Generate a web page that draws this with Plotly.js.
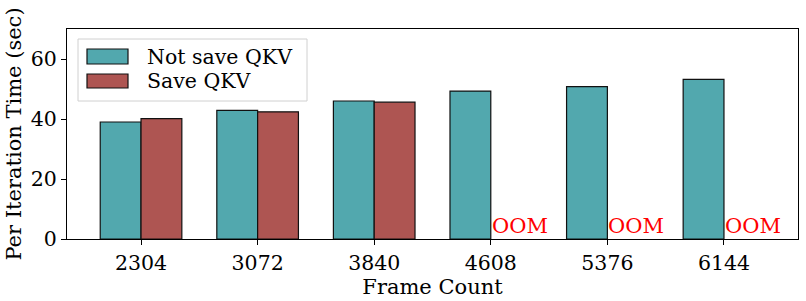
<!DOCTYPE html>
<html><head><meta charset="utf-8">
<script src="https://cdn.plot.ly/plotly-3.0.1.min.js"></script>
<style>html,body{margin:0;padding:0;background:#fff}#chart{width:806px;height:301px}</style>
</head><body><div id="chart"></div>
<script>
const categories = ["2304", "3072", "3840", "4608", "5376", "6144"];
const notSaveQKV = [39.0, 42.9, 46.0, 49.3, 50.8, 53.2];
const saveQKV = [40.1, 42.4, 45.6, null, null, null];
const seriesNames = ["Not save QKV", "Save QKV"];
const oomLabel = "OOM";
const yTicks = [0, 20, 40, 60];

const teal = "rgb(82,168,174)";
const red = "rgb(174,85,82)";
const font = {family: "DejaVu Serif", size: 20.5, color: "#000"};
const titleFont = {family: "DejaVu Serif", size: 21, color: "#000"};
const idx = categories.map((_, i) => i);
const W = 0.35;

const traces = [
  {type: "bar", x: idx.map(i => i - W/2), y: notSaveQKV, width: W, name: seriesNames[0],
   marker: {color: teal, line: {color: "#111", width: 1.2}}, showlegend: false},
  {type: "bar", x: idx.map(i => i + W/2), y: saveQKV, width: W, name: seriesNames[1],
   marker: {color: red, line: {color: "#111", width: 1.2}}, showlegend: false}
];

const annotations = [];
saveQKV.forEach((v, i) => {
  if (v === null) annotations.push({x: i, y: 0, xref: "x", yref: "y", text: oomLabel,
    showarrow: false, xanchor: "left", yanchor: "bottom", xshift: -1, yshift: -1,
    font: {family: "DejaVu Serif", size: 21, color: "#ff0000"}});
});
// legend
const px = v => (v - 67) / 731, py = v => (239 - v) / 210;
const shapes = [
  {type: "path", xref: "paper", yref: "paper",
   path: (() => { const x0=px(78),x1=px(307),y0=py(101),y1=py(39); return `M${x0},${y0} L${x1},${y0} L${x1},${y1} L${x0},${y1} Z`; })(),
   line: {color: "#d0d0d0", width: 1}, fillcolor: "rgba(255,255,255,0.8)"},
  {type: "rect", xref: "paper", yref: "paper", x0: px(87), x1: px(128), y0: py(64), y1: py(49),
   fillcolor: teal, line: {color: "#111", width: 1.2}},
  {type: "rect", xref: "paper", yref: "paper", x0: px(87), x1: px(128), y0: py(88), y1: py(74),
   fillcolor: red, line: {color: "#111", width: 1.2}}
];
annotations.push({xref: "paper", yref: "paper", x: px(145), y: py(57), text: seriesNames[0], showarrow: false,
  xanchor: "left", yanchor: "middle", font: font});
annotations.push({xref: "paper", yref: "paper", x: px(145), y: py(81), text: seriesNames[1], showarrow: false,
  xanchor: "left", yanchor: "middle", font: font});

const layout = {
  width: 806, height: 301,
  margin: {l: 67, r: 8, t: 29, b: 62},
  paper_bgcolor: "#fff", plot_bgcolor: "#fff",
  font: font,
  bargap: 0, barmode: "overlay",
  xaxis: {range: [-0.635, 5.635], tickmode: "array", tickvals: idx, ticktext: categories,
    showgrid: false, zeroline: false, showline: true, linecolor: "#000", linewidth: 1, mirror: true,
    ticks: "outside", ticklen: 5, tickcolor: "#000", tickfont: font,
    title: {text: "Frame Count", font: titleFont, standoff: 0}},
  yaxis: {range: [0, 70], tickmode: "array", tickvals: yTicks, ticktext: yTicks.map(String),
    showgrid: false, zeroline: false, showline: true, linecolor: "#000", linewidth: 1, mirror: true,
    ticks: "outside", ticklen: 5, tickcolor: "#000", tickfont: font,
    title: {text: "Per Iteration Time (sec)", font: titleFont, standoff: 3}},
  shapes: shapes, annotations: annotations, showlegend: false
};
Plotly.newPlot("chart", traces, layout, {displayModeBar: false, staticPlot: true});
</script></body></html>
